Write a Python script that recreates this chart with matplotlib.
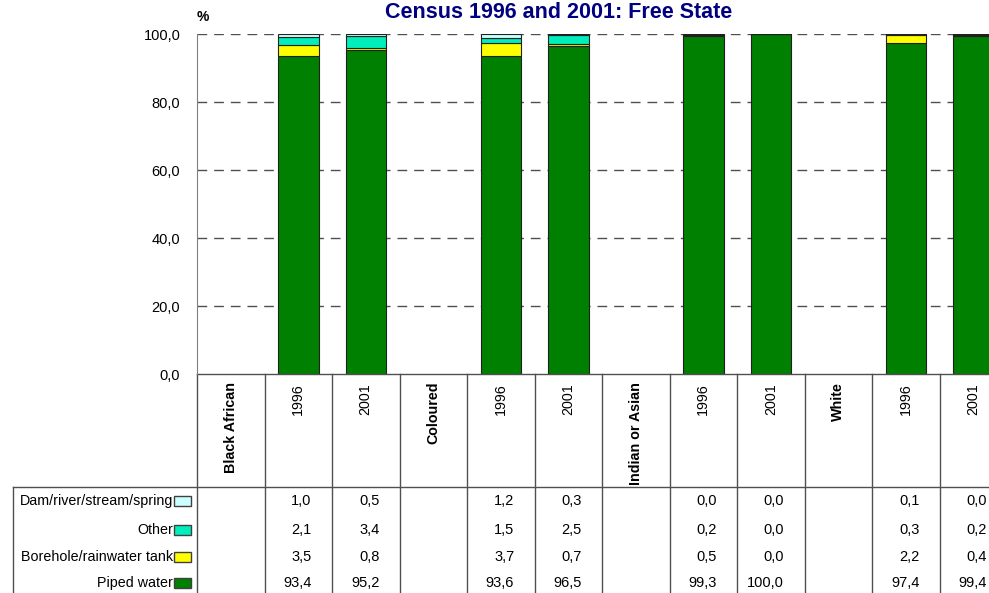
import matplotlib.pyplot as plt
import matplotlib.transforms as mtransforms
from matplotlib.patches import Rectangle

plt.rcParams['font.family'] = ['Liberation Sans', 'DejaVu Sans']

# Column layout: group label column followed by its two census years
groups = ['Black African', 'Coloured', 'Indian or Asian', 'White']
years = ['1996', '2001']

series = ['Piped water', 'Borehole/rainwater tank', 'Other', 'Dam/river/stream/spring']
colors = ['#008000', '#FFFF00', '#00EEBB', '#CCFFFF']

piped = [93.4, 95.2, 93.6, 96.5, 99.3, 100.0, 97.4, 99.4]
borehole = [3.5, 0.8, 3.7, 0.7, 0.5, 0.0, 2.2, 0.4]
other = [2.1, 3.4, 1.5, 2.5, 0.2, 0.0, 0.3, 0.2]
dam = [1.0, 0.5, 1.2, 0.3, 0.0, 0.0, 0.1, 0.0]
values = [piped, borehole, other, dam]

W, H = 989, 593
fig = plt.figure(figsize=(W / 100, H / 100), dpi=100)

col_w = 67.5
x0, y_top, y_bot = 197, 34, 374
ncol = 12
ax = fig.add_axes([x0 / W, 1 - y_bot / H, ncol * col_w / W, (y_bot - y_top) / H])
ax.set_xlim(0, ncol)
ax.set_ylim(0, 100)

# bar positions: year columns only
pos = []
for g in range(len(groups)):
    pos += [g * 3 + 1.5, g * 3 + 2.5]

for y in [20, 40, 60, 80, 100]:
    ax.axhline(y, color='#505050', lw=1, ls=(0, (7, 5)), zorder=1)

bottom = [0] * len(pos)
for vals, c in zip(values, colors):
    ax.bar(pos, vals, width=0.6, bottom=bottom, color=c, edgecolor='#202020',
           linewidth=0.8, zorder=2)
    bottom = [b + v for b, v in zip(bottom, vals)]

for s in ['top', 'right', 'bottom']:
    ax.spines[s].set_visible(False)
ax.spines['left'].set_color('#808080')
ax.set_xticks([])
ax.set_yticks([0, 20, 40, 60, 80, 100])
ax.set_yticklabels([f'{v:.1f}'.replace('.', ',') for v in [0, 20, 40, 60, 80, 100]],
                   fontsize=10.5)
ax.tick_params(axis='y', length=0, pad=12)

fig.text(203 / W, 1 - 17 / H, '%', fontsize=10, fontweight='bold', ha='center', va='center')
fig.text(559 / W, 1 - 13 / H, 'Census 1996 and 2001: Free State', fontsize=15.5,
         fontweight='bold', color='#000080', ha='center', va='center')

# category labels and data table below the plot
tr = mtransforms.blended_transform_factory(ax.transData, fig.transFigure)
def fy(py):
    return 1 - py / H

line_kw = dict(color='#505050', lw=1, clip_on=False)
ax.plot([0, ncol], [fy(y_bot)] * 2, transform=tr, **line_kw)
for i in range(ncol + 1):
    ax.plot([i, i], [fy(y_bot), fy(600)], transform=tr, **line_kw)
fig.add_artist(plt.Line2D([13 / W, 1], [fy(487)] * 2, **line_kw))
fig.add_artist(plt.Line2D([13 / W, 13 / W], [fy(487), fy(600)], **line_kw))

for g, name in enumerate(groups):
    ax.text(g * 3 + 0.5, fy(382), name, transform=tr, rotation=90, ha='center',
            va='top', fontsize=10.3, fontweight='bold')
    for k, yr in enumerate(years):
        ax.text(g * 3 + 1.5 + k, fy(383), yr, transform=tr, rotation=90,
                ha='center', va='top', fontsize=10.3)

row_y = [501, 530, 557, 583]
table_rows = list(zip(series, colors, values))[::-1]
for ry, (name, c, vals) in zip(row_y, table_rows):
    fig.text(173 / W, fy(ry), name, fontsize=10.3, ha='right', va='center')
    fig.add_artist(Rectangle((174 / W, fy(ry + 5)), 17 / W, 10 / H, facecolor=c,
                             edgecolor='#404040', lw=1, transform=fig.transFigure))
    for p, v in zip(pos, vals):
        ax.text(p + 0.2, fy(ry), f'{v:.1f}'.replace('.', ','), transform=tr,
                ha='right', va='center', fontsize=10.5, clip_on=False)

fig.savefig('out.png', dpi=100)
